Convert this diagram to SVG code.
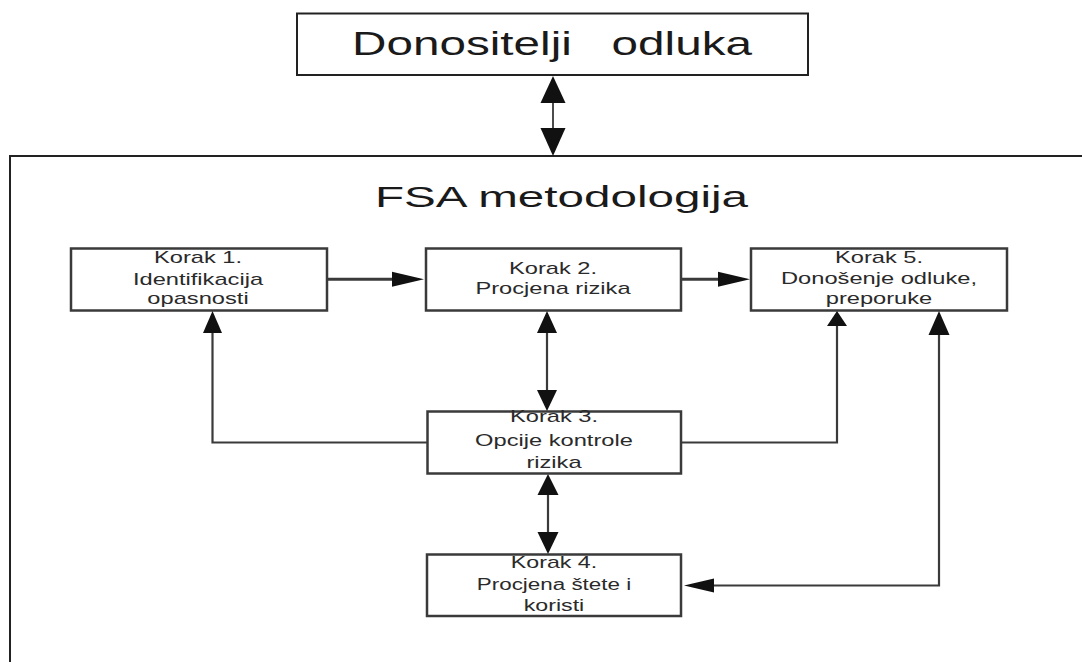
<svg xmlns="http://www.w3.org/2000/svg" width="1082" height="662" viewBox="0 0 1082 662">
<style>
.box{fill:#fff;stroke:#3a3a3a;stroke-width:2.5}
.frame{fill:#fff;stroke:#222;stroke-width:2}
.big{font-family:"Liberation Sans",Arial,sans-serif;fill:#1a1a1a;white-space:pre}
.lbl{font-family:"Liberation Sans",Arial,sans-serif;font-size:16px;fill:#2a2a2a;text-anchor:middle}
.ln{fill:none;stroke:#3a3a3a;stroke-width:2.2}
.lnh{fill:none;stroke:#3a3a3a;stroke-width:3}
.thin{fill:none;stroke:#111;stroke-width:1.5}
.head{fill:#111;stroke:none}
</style>
<rect width="1082" height="662" fill="#fff"/>
<g id="fsa">
<rect class="frame" x="10" y="156" width="1100" height="600"/>
<text class="big" x="375" y="206.7" font-size="30" textLength="373" lengthAdjust="spacingAndGlyphs">FSA metodologija</text>
</g>
<g id="donositelji">
<rect class="frame" x="297" y="13.5" width="511" height="61.5"/>
<text class="big" x="352" y="55" font-size="32.5" xml:space="preserve" textLength="400" lengthAdjust="spacingAndGlyphs">Donositelji   odluka</text>
</g>
<g id="korak1">
<rect class="box" x="71" y="248.5" width="256" height="62"/>
<g class="lbl">
<text transform="translate(198,263.3) scale(1.48,1)">Korak 1.</text>
<text transform="translate(198,285) scale(1.48,1)">Identifikacija</text>
<text transform="translate(198,304.3) scale(1.48,1)">opasnosti</text>
</g>
</g>
<g id="korak2">
<rect class="box" x="426" y="248.5" width="255" height="62"/>
<g class="lbl">
<text transform="translate(553,273.5) scale(1.48,1)">Korak 2.</text>
<text transform="translate(553,294) scale(1.48,1)">Procjena rizika</text>
</g>
</g>
<g id="korak5">
<rect class="box" x="751" y="248.5" width="256" height="62"/>
<g class="lbl">
<text transform="translate(879,263.3) scale(1.48,1)">Korak 5.</text>
<text transform="translate(879,284.3) scale(1.48,1)">Donošenje odluke,</text>
<text transform="translate(879,303.5) scale(1.48,1)">preporuke</text>
</g>
</g>
<g id="korak3">
<rect class="box" x="427.5" y="411.5" width="253.5" height="62"/>
<g class="lbl">
<text transform="translate(554,422) scale(1.48,1)">Korak 3.</text>
<text transform="translate(554,445.5) scale(1.48,1)">Opcije kontrole</text>
<text transform="translate(554,468.3) scale(1.48,1)">rizika</text>
</g>
</g>
<g id="korak4">
<rect class="box" x="427" y="554.5" width="254" height="61.5"/>
<g class="lbl">
<text transform="translate(554,568.3) scale(1.45,1)">Korak 4.</text>
<text transform="translate(554,590) scale(1.4,1)">Procjena štete i</text>
<text transform="translate(554,610.5) scale(1.45,1)">koristi</text>
</g>
</g>
<g id="connectors">
<line class="thin" x1="553" y1="100" x2="553" y2="131"/>
<polygon class="head" points="553,76 540.5,103 565.5,103"/>
<polygon class="head" points="553,156 540.5,128 565.5,128"/>
<line class="lnh" x1="327" y1="279.3" x2="395" y2="279.3"/>
<polygon class="head" points="424,279.3 392,271.8 392,286.8"/>
<line class="lnh" x1="681" y1="279.3" x2="721" y2="279.3"/>
<polygon class="head" points="750,279.3 718,271.8 718,286.8"/>
<line class="ln" x1="547" y1="330" x2="547" y2="393"/>
<polygon class="head" points="547,311 537,333 557,333"/>
<polygon class="head" points="547,411 537,390 557,390"/>
<polyline class="ln" points="428,442.5 212.5,442.5 212.5,330"/>
<polygon class="head" points="212.5,311 203,333 222,333"/>
<polyline class="ln" points="681,442.5 837,442.5 837,323"/>
<polygon class="head" points="837,311 827,326 847,326"/>
<line class="ln" x1="548" y1="492" x2="548" y2="535"/>
<polygon class="head" points="548,474 537.5,495 558.5,495"/>
<polygon class="head" points="548,554 537.5,532 558.5,532"/>
<polyline class="ln" points="711,585.5 939,585.5 939,332"/>
<polygon class="head" points="939,311 928.5,335 949.5,335"/>
<polygon class="head" points="684,585.5 714,578.5 714,592.5"/>
</g>
</svg>
